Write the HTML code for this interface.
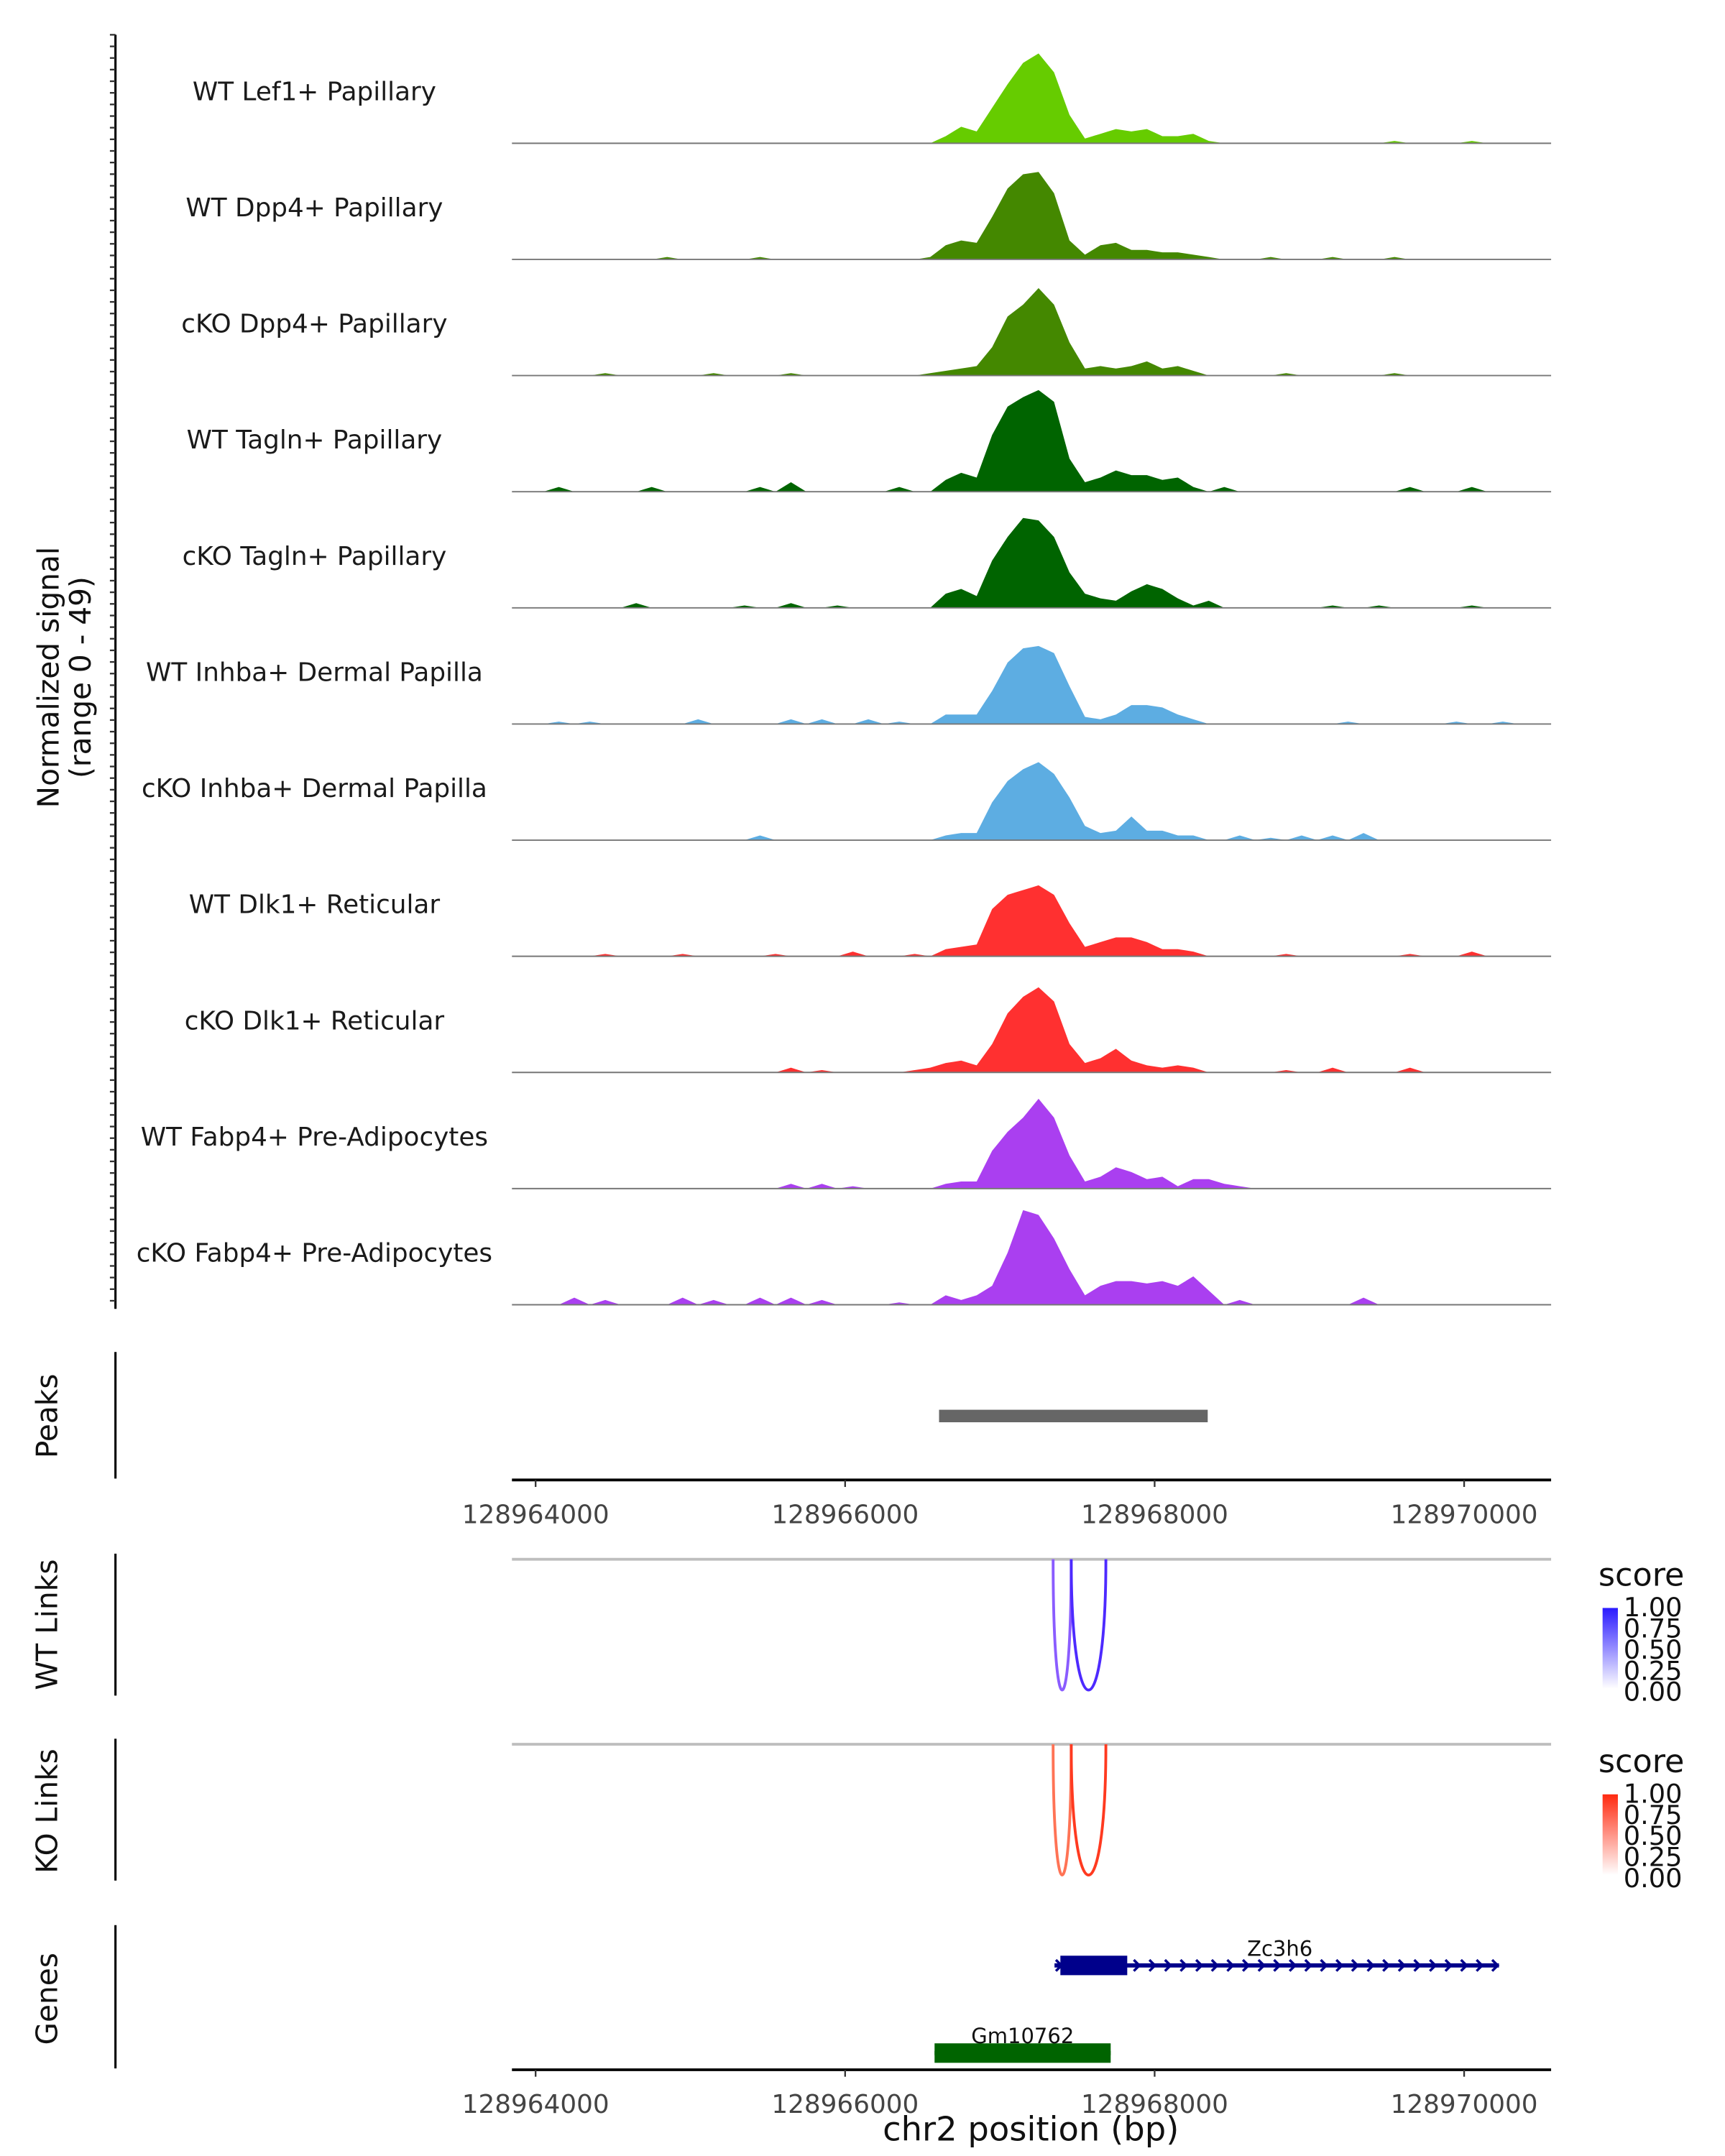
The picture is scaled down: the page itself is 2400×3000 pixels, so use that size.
<!DOCTYPE html>
<html><head><meta charset="utf-8"><style>html,body{margin:0;padding:0;background:#fff}svg{display:block}</style></head>
<body>
<svg id="chart" xmlns="http://www.w3.org/2000/svg" width="2400" height="3000" viewBox="0 0 1240 1550" font-family="'DejaVu Sans','Liberation Sans',sans-serif">
<defs>
<linearGradient id="gblue" x1="0" y1="1" x2="0" y2="0"><stop offset="0" stop-color="#ffffff"/><stop offset="1" stop-color="#2a1aff"/></linearGradient>
<linearGradient id="gred" x1="0" y1="1" x2="0" y2="0"><stop offset="0" stop-color="#ffffff"/><stop offset="1" stop-color="#ff2a10"/></linearGradient>
</defs>
<g id="tracks"></g>
<g id="rest"></g>
</svg>
<script>
const trackNames=["WT Lef1+ Papillary","WT Dpp4+ Papillary","cKO Dpp4+ Papillary","WT Tagln+ Papillary","cKO Tagln+ Papillary","WT Inhba+ Dermal Papilla","cKO Inhba+ Dermal Papilla","WT Dlk1+ Reticular","cKO Dlk1+ Reticular","WT Fabp4+ Pre-Adipocytes","cKO Fabp4+ Pre-Adipocytes"];
const trackColors=["#66cc00","#448800","#448800","#006400","#006400","#5dade2","#5dade2","#ff3030","#ff3030","#aa3ff0","#aa3ff0"];
const binStart=128963800, binSize=100, nBins=69;
const sig0={28:3,29:7,30:5,31:15,32:25,33:34,34:38,35:30,36:12,37:2,38:4,39:6,40:5,41:6,42:3,43:3,44:4,45:1,57:1,62:1};
const sig1={10:1,16:1,27:1,28:6,29:8,30:7,31:18,32:30,33:36,34:37,35:28,36:8,37:2,38:6,39:7,40:4,41:4,42:3,43:3,44:2,45:1,49:1,53:1,57:1};
const sig2={6:1,13:1,18:1,27:1,28:2,29:3,30:4,31:12,32:25,33:30,34:37,35:30,36:14,37:3,38:4,39:3,40:4,41:6,42:3,43:4,44:2,50:1,57:1};
const sig3={3:2,9:2,16:2,18:4,25:2,28:5,29:8,30:6,31:24,32:36,33:40,34:43,35:38,36:14,37:4,38:6,39:9,40:7,41:7,42:5,43:6,44:2,46:2,58:2,62:2};
const sig4={8:2,15:1,18:2,21:1,28:6,29:8,30:5,31:20,32:30,33:38,34:37,35:30,36:15,37:6,38:4,39:3,40:7,41:10,42:8,43:4,44:1,45:3,53:1,56:1,62:1};
const sig5={3:1,5:1,12:2,18:2,20:2,23:2,25:1,28:4,29:4,30:4,31:14,32:26,33:32,34:33,35:30,36:16,37:3,38:2,39:4,40:8,41:8,42:7,43:4,44:2,54:1,61:1,64:1};
const sig6={16:2,28:2,29:3,30:3,31:16,32:25,33:30,34:33,35:28,36:18,37:6,38:3,39:4,40:10,41:4,42:4,43:2,44:2,47:2,49:1,51:2,53:2,55:3};
const sig7={6:1,11:1,17:1,22:2,26:1,28:3,29:4,30:5,31:20,32:26,33:28,34:30,35:26,36:14,37:4,38:6,39:8,40:8,41:6,42:3,43:3,44:2,50:1,58:1,62:2};
const sig8={18:2,20:1,26:1,27:2,28:4,29:5,30:3,31:12,32:25,33:32,34:36,35:30,36:12,37:4,38:6,39:10,40:5,41:3,42:2,43:3,44:2,50:1,53:2,58:2};
const sig9={18:2,20:2,22:1,28:2,29:3,30:3,31:16,32:24,33:30,34:38,35:30,36:14,37:3,38:5,39:9,40:7,41:4,42:5,43:1,44:4,45:4,46:2,47:1};
const sig10={4:3,6:2,11:3,13:2,16:3,18:3,20:2,25:1,28:4,29:2,30:4,31:8,32:22,33:40,34:38,35:28,36:15,37:4,38:8,39:10,40:10,41:9,42:10,43:8,44:12,45:6,47:2,55:3};
const signals=[sig0,sig1,sig2,sig3,sig4,sig5,sig6,sig7,sig8,sig9,sig10];
const xTicks=[128964000,128966000,128968000,128970000];
const peakStarts=[128966607], peakEnds=[128968343];
const wtLinkStarts=[128967344,128967461], wtLinkEnds=[128967461,128967685], wtLinkScores=[0.6,0.85];
const koLinkStarts=[128967344,128967461], koLinkEnds=[128967461,128967685], koLinkScores=[0.6,0.85];
const geneNames=["Zc3h6","Gm10762"], geneStarts=[128967353,128966578], geneEnds=[128970225,128967716];
const exonStarts=[128967391,128966578], exonEnds=[128967823,128967716], geneRows=[0,1];
const legendTicks=["1.00","0.75","0.50","0.25","0.00"];

const NS="http://www.w3.org/2000/svg";
const X0=368,X1=1115,D0=128963847,D1=128970562;
const xs=v=>X0+(v-D0)/(D1-D0)*(X1-X0);
const PXU=1.7;
function mk(tag,attrs,parent,text){const e=document.createElementNS(NS,tag);for(const k in attrs)e.setAttribute(k,attrs[k]);if(text!==undefined)e.textContent=text;parent.appendChild(e);return e;}
const T=document.getElementById('tracks'), R=document.getElementById('rest');

let ax=mk('line',{x1:83,y1:25,x2:83,y2:941,stroke:'#000','stroke-width':1.6},T);


for(let y=25;y<=941;y+=8.35){const t=mk('line',{x1:79,y1:y,x2:83,y2:y,stroke:'#333','stroke-width':1.2},T);

}
let yt=mk('text',{transform:'translate(42,487) rotate(-90)','text-anchor':'middle','font-size':21,fill:'#111'},T,'Normalized signal');


let yt2=mk('text',{transform:'translate(65,487) rotate(-90)','text-anchor':'middle','font-size':21,fill:'#111'},T,'(range 0 - 49)');



trackNames.forEach((name,i)=>{
  const base=103+i*83.5;
  const g=mk('g',{},T);
  
  
  const lb=mk('text',{x:226,y:base-31,'text-anchor':'middle','font-size':18.5,fill:'#1a1a1a'},g,name);
  
  
  let d='M'+X0+','+base;
  for(let b=0;b<nBins;b++){const v=signals[i][b]||0;const xa=xs(binStart+b*binSize),xb=xs(binStart+(b+1)*binSize);
    if(xa<X0||xb>X1)continue;
    const vm=((signals[i][b-1]||0)+v)/2;
    d+=' L'+xa+','+(base-vm*PXU)+' L'+(xa+xb)/2+','+(base-v*PXU);}
  d+=' L'+X1+','+base+' Z';
  const a=mk('path',{d:d,fill:trackColors[i]},g);
  
  
  const bl=mk('line',{x1:X0,y1:base,x2:X1,y2:base,stroke:'#777','stroke-width':1},g);
  
  
});

function sideAxis(y1,y2,label,cy,nm){
  const l=mk('line',{x1:83,y1:y1,x2:83,y2:y2,stroke:'#000','stroke-width':1.6},R);
  
  
  const t=mk('text',{transform:'translate(41,'+cy+') rotate(-90)','text-anchor':'middle','font-size':21,fill:'#111'},R,label);
  
  
}
function xAxis(y,nm){
  const l=mk('line',{x1:X0,y1:y,x2:X1,y2:y,stroke:'#000','stroke-width':2},R);
  
  
  xTicks.forEach(v=>{const t=mk('line',{x1:xs(v),y1:y,x2:xs(v),y2:y+5,stroke:'#333','stroke-width':1.2},R);
    
    
    const tl=mk('text',{x:xs(v),y:y+31,'text-anchor':'middle','font-size':18.5,fill:'#444'},R,String(v));
    
    });
}
sideAxis(972,1063,'Peaks',1018,'peaks');
peakStarts.forEach((s,i)=>{const r=mk('rect',{x:xs(s),y:1013.5,width:xs(peakEnds[i])-xs(s),height:9,fill:'#666'},R);
  
  });
xAxis(1064,'peaks-x-axis');

function linkPanel(y0,starts,ends,scores,lo,hi,label,cy,nm,grad,ly){
  sideAxis(y0-4,y0+98,label,cy,nm);
  const gl=mk('line',{x1:X0,y1:y0,x2:X1,y2:y0,stroke:'#bebebe','stroke-width':2},R);
  
  
  starts.forEach((s,i)=>{const a=xs(s),b=xs(ends[i]);const depth=94;const cyc=y0+depth/0.75;
    const p=mk('path',{d:`M${a},${y0} C${a},${cyc} ${b},${cyc} ${b},${y0}`,fill:'none',stroke:scores[i]>0.7?hi:lo,'stroke-width':2},R);
    
    });
  const st=mk('text',{x:1149,y:ly,'font-size':23,fill:'#111'},R,'score');
  
  
  const cb=mk('rect',{x:1152,y:ly+16,width:11,height:58,fill:'url(#'+grad+')'},R);
  
  
  legendTicks.forEach((t,k)=>{const tt=mk('text',{x:1167,y:ly+22+k*15.2,'font-size':19,fill:'#111'},R,t);
    
    });
}
linkPanel(1121,wtLinkStarts,wtLinkEnds,wtLinkScores,'#8a5cff','#4d2aff','WT Links',1168,'wt-links','gblue',1140);
linkPanel(1254,koLinkStarts,koLinkEnds,koLinkScores,'#ff7355','#ff3a20','KO Links',1302,'ko-links','gred',1274);

sideAxis(1384,1487,'Genes',1437,'genes');
const geneCols=['#00008b','#006400'];
geneNames.forEach((n,i)=>{const y=geneRows[i]?1476:1413;const g=mk('g',{},R);
  
  
  mk('line',{x1:xs(geneStarts[i]),y1:y,x2:xs(geneEnds[i]),y2:y,stroke:geneCols[i],'stroke-width':3},g);
  if(i===0){for(let x=xs(geneStarts[i])+3;x<=xs(geneEnds[i])+1;x+=11.2){mk('path',{d:`M${x-2},${y-4} L${x+2},${y} L${x-2},${y+4}`,fill:'none',stroke:geneCols[i],'stroke-width':1.8},g);}}
  mk('rect',{x:xs(exonStarts[i]),y:y-7,width:xs(exonEnds[i])-xs(exonStarts[i]),height:14,fill:geneCols[i]},g);
  const tx=mk('text',{x:i?(xs(geneStarts[i])+xs(geneEnds[i]))/2:920,y:i?1469:1406,'text-anchor':'middle','font-size':15,fill:'#111'},g,n);
  
  
});
xAxis(1488,'genes-x-axis');
const xt=mk('text',{x:741,y:1539,'text-anchor':'middle','font-size':24,fill:'#111'},R,'chr2 position (bp)');


</script>
</body></html>
